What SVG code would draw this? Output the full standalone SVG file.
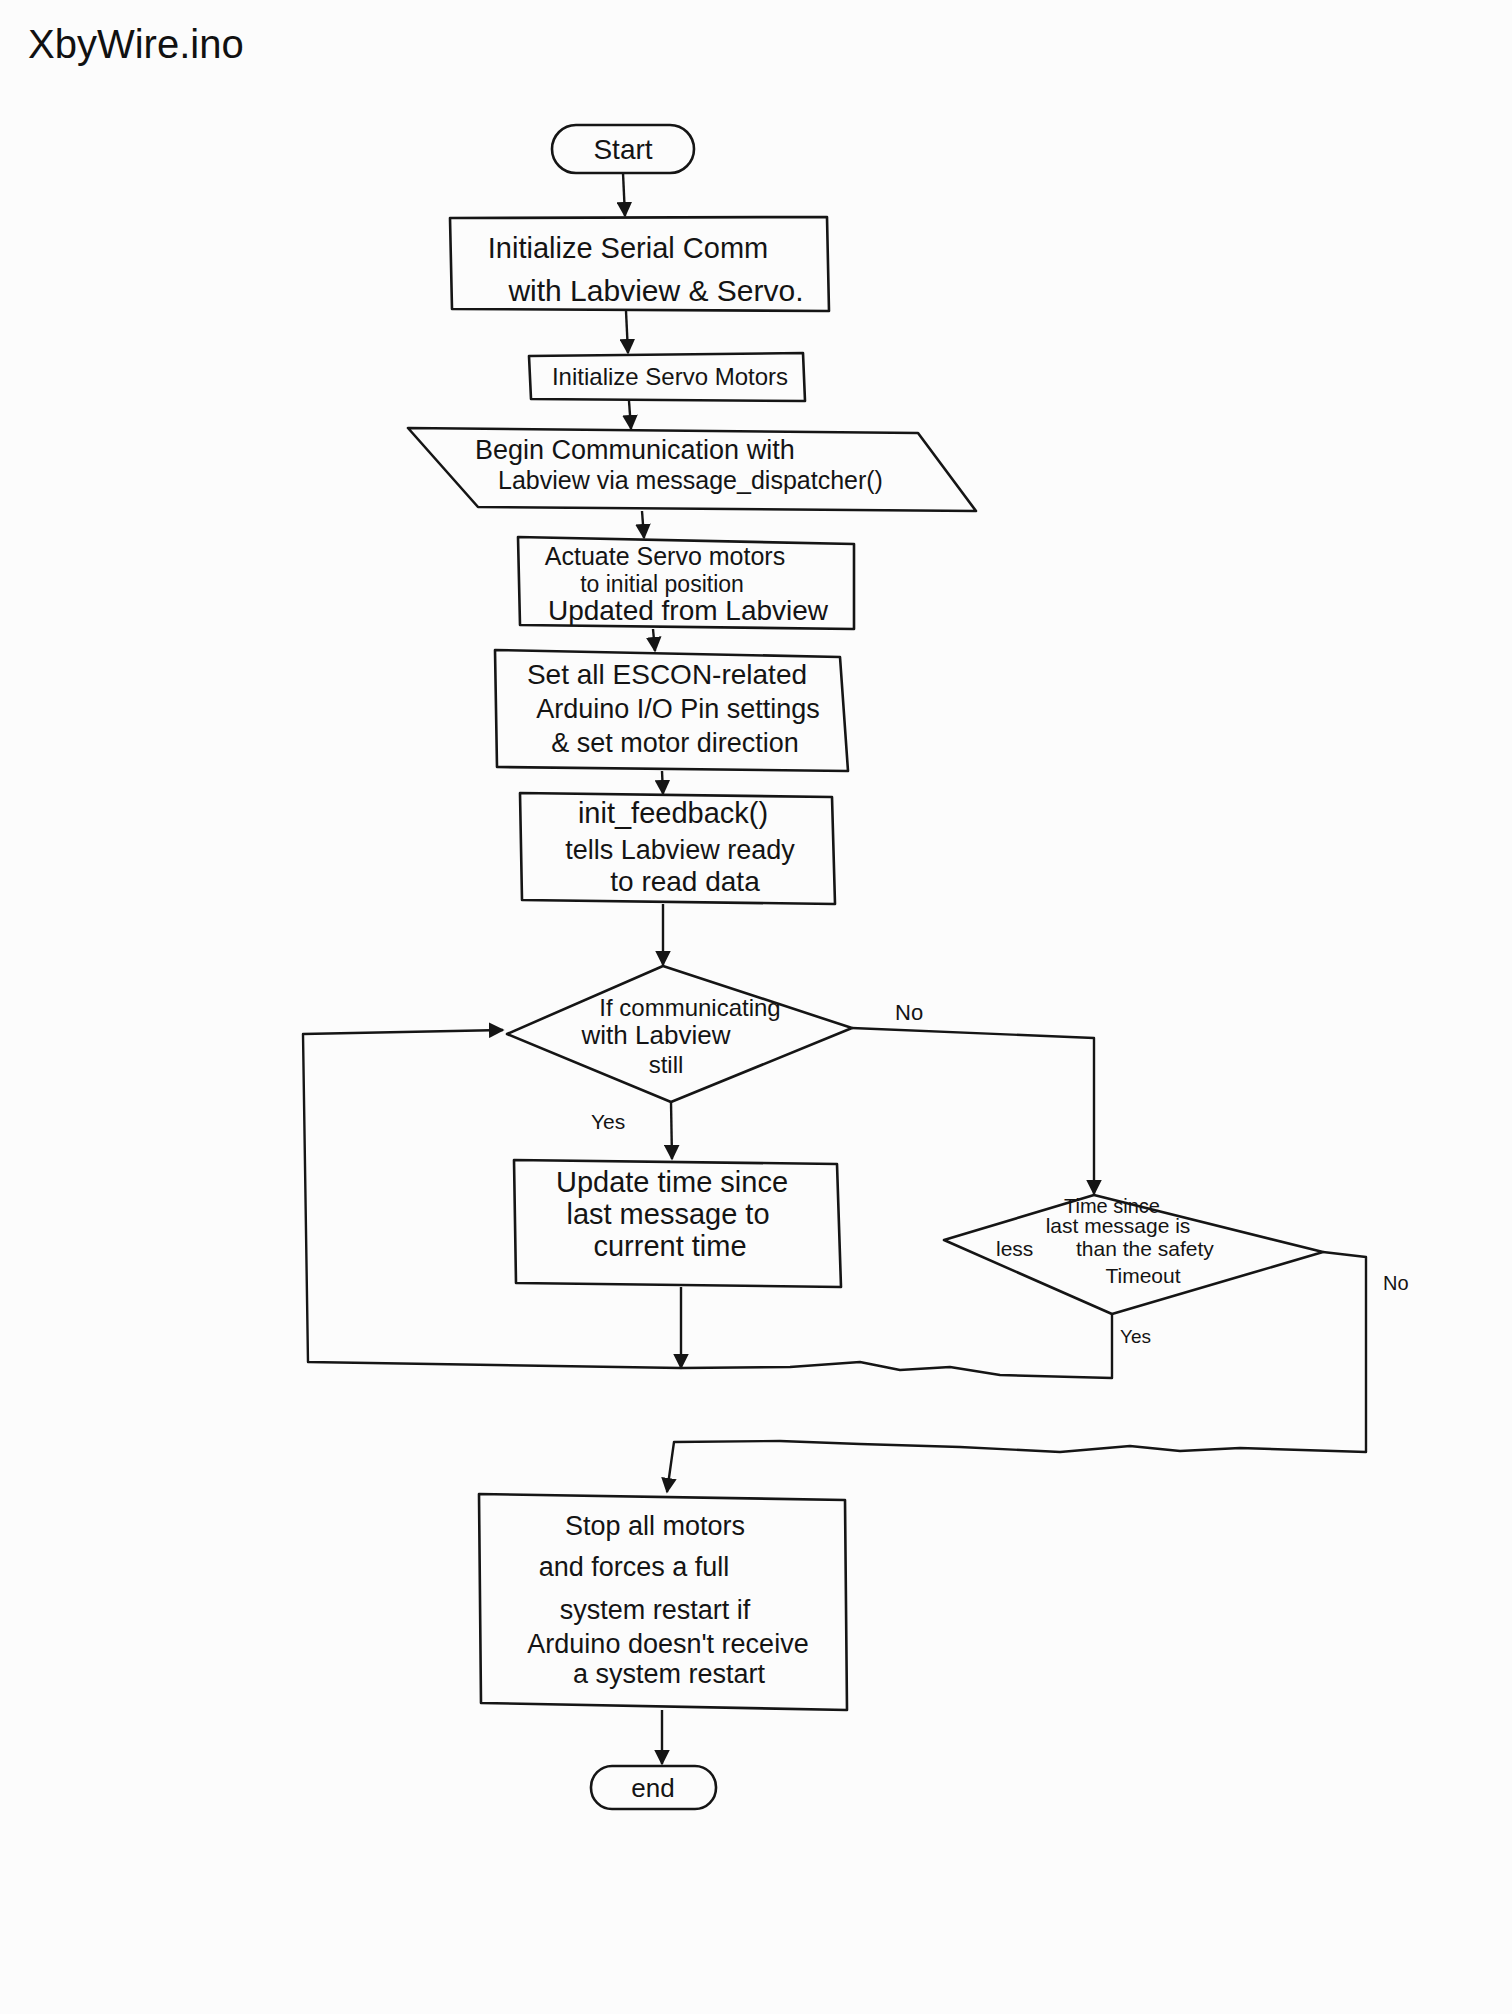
<svg xmlns="http://www.w3.org/2000/svg" width="1512" height="2014" viewBox="0 0 1512 2014">
<defs>
<style>
.shape{fill:none;stroke:#151515;stroke-width:2.6;stroke-linejoin:round}
.conn{fill:none;stroke:#151515;stroke-width:2.4;stroke-linejoin:round}
.t{font-family:"Liberation Sans","DejaVu Sans",sans-serif;fill:#141414;text-anchor:middle}
.lbl{font-family:"Liberation Sans","DejaVu Sans",sans-serif;fill:#141414;font-size:22px}
</style>
<marker id="arr" viewBox="0 0 10 10" refX="9" refY="5" markerWidth="6.5" markerHeight="6.5" markerUnits="strokeWidth" orient="auto">
<path d="M0,0 L10,5 L0,10 z" fill="#151515"/>
</marker>
</defs>
<rect x="0" y="0" width="1512" height="2014" fill="#fcfcfc"/>

<g id="title">
<text x="28" y="58" style="font-family:'Liberation Sans','DejaVu Sans',sans-serif;font-size:40px;fill:#111">XbyWire.ino</text>
</g>

<g id="connectors">
<path class="conn" d="M623,173 L625,216" marker-end="url(#arr)"/>
<path class="conn" d="M626,311 L628,353" marker-end="url(#arr)"/>
<path class="conn" d="M629,401 L631,429" marker-end="url(#arr)"/>
<path class="conn" d="M642,511 L644,538" marker-end="url(#arr)"/>
<path class="conn" d="M653,629 L655,651" marker-end="url(#arr)"/>
<path class="conn" d="M662,771 L663,794" marker-end="url(#arr)"/>
<path class="conn" d="M663,904 L663,965" marker-end="url(#arr)"/>
<path class="conn" d="M671,1102 L672,1159" marker-end="url(#arr)"/>
<path class="conn" d="M852,1028 L1094,1038 L1094,1194" marker-end="url(#arr)"/>
<path class="conn" d="M681,1287 L681,1368" marker-end="url(#arr)"/>
<path class="conn" d="M1112,1314 L1112,1378 L1000,1375 L950,1367 L900,1370 L860,1362 L790,1367 L681,1368 L308,1362 L303,1034 L503,1030" marker-end="url(#arr)"/>
<path class="conn" d="M1323,1252 L1366,1257 L1366,1452 L1240,1448 L1180,1451 L1130,1446 L1060,1452 L960,1447 L860,1444 L780,1441 L674,1442 L667,1492" marker-end="url(#arr)"/>
<path class="conn" d="M662,1710 L662,1764" marker-end="url(#arr)"/>
<text class="lbl" x="895" y="1020">No</text>
<text class="lbl" x="591" y="1129" style="font-size:21px">Yes</text>
<text class="lbl" x="1120" y="1343" style="font-size:19px">Yes</text>
<text class="lbl" x="1383" y="1290" style="font-size:20px">No</text>
</g>

<g id="start">
<rect class="shape" x="552" y="125" width="142" height="48" rx="24"/>
<text class="t" x="623" y="159" style="font-size:28px">Start</text>
</g>

<g id="init-serial">
<path class="shape" d="M450,218 L827,217 L829,311 L452,309 Z"/>
<text class="t" x="628" y="258" style="font-size:29px">Initialize Serial Comm</text>
<text class="t" x="656" y="301" style="font-size:30px">with Labview &amp; Servo.</text>
</g>

<g id="init-servo">
<path class="shape" d="M529,356 L803,353 L805,401 L531,399 Z"/>
<text class="t" x="670" y="385" style="font-size:24px">Initialize Servo Motors</text>
</g>

<g id="begin-comm">
<path class="shape" d="M408,428 L918,433 L976,511 L478,507 Z"/>
<text x="475" y="459" style="font-family:'Liberation Sans','DejaVu Sans',sans-serif;font-size:27px;fill:#141414">Begin Communication with</text>
<text x="498" y="489" style="font-family:'Liberation Sans','DejaVu Sans',sans-serif;font-size:25px;fill:#141414">Labview via message_dispatcher()</text>
</g>

<g id="actuate">
<path class="shape" d="M518,537 L854,544 L854,629 L520,625 Z"/>
<text class="t" x="665" y="565" style="font-size:25px">Actuate Servo motors</text>
<text class="t" x="662" y="592" style="font-size:23px">to initial position</text>
<text class="t" x="688" y="620" style="font-size:28px">Updated from Labview</text>
</g>

<g id="escon">
<path class="shape" d="M495,650 L840,657 L848,771 L497,767 Z"/>
<text class="t" x="667" y="684" style="font-size:28px">Set all ESCON-related</text>
<text class="t" x="678" y="718" style="font-size:27px">Arduino I/O Pin settings</text>
<text class="t" x="675" y="752" style="font-size:27px">&amp; set motor direction</text>
</g>

<g id="init-feedback">
<path class="shape" d="M520,793 L832,797 L835,904 L522,900 Z"/>
<text class="t" x="673" y="823" style="font-size:29px">init_feedback()</text>
<text class="t" x="680" y="859" style="font-size:27px">tells Labview ready</text>
<text class="t" x="685" y="891" style="font-size:28px">to read data</text>
</g>

<g id="decision-comm">
<path class="shape" d="M663,966 L852,1028 L671,1102 L507,1034 Z"/>
<text class="t" x="690" y="1016" style="font-size:24px">If communicating</text>
<text class="t" x="656" y="1044" style="font-size:26px">with Labview</text>
<text class="t" x="666" y="1073" style="font-size:24px">still</text>
</g>

<g id="update-time">
<path class="shape" d="M514,1160 L837,1164 L841,1287 L516,1283 Z"/>
<text class="t" x="672" y="1192" style="font-size:29px">Update time since</text>
<text class="t" x="668" y="1224" style="font-size:29px">last message to</text>
<text class="t" x="670" y="1256" style="font-size:29px">current time</text>
</g>

<g id="decision-timeout">
<path class="shape" d="M1094,1195 L1323,1252 L1112,1314 L944,1240 Z"/>
<text class="t" x="1112" y="1213" style="font-size:20px">Time since</text>
<text class="t" x="1118" y="1233" style="font-size:21px">last message is</text>
<text x="996" y="1256" style="font-family:'Liberation Sans','DejaVu Sans',sans-serif;font-size:21px;fill:#141414"><tspan>less</tspan><tspan x="1076">than the safety</tspan></text>
<text class="t" x="1143" y="1283" style="font-size:21px">Timeout</text>
</g>

<g id="stop-motors">
<path class="shape" d="M479,1494 L845,1500 L847,1710 L481,1703 Z"/>
<text class="t" x="655" y="1535" style="font-size:27px">Stop all motors</text>
<text class="t" x="634" y="1576" style="font-size:27px">and forces a full</text>
<text class="t" x="655" y="1619" style="font-size:27px">system restart if</text>
<text class="t" x="668" y="1653" style="font-size:27px">Arduino doesn't receive</text>
<text class="t" x="669" y="1683" style="font-size:27px">a system restart</text>
</g>

<g id="end">
<rect class="shape" x="591" y="1766" width="125" height="43" rx="21"/>
<text class="t" x="653" y="1797" style="font-size:26px">end</text>
</g>
</svg>
